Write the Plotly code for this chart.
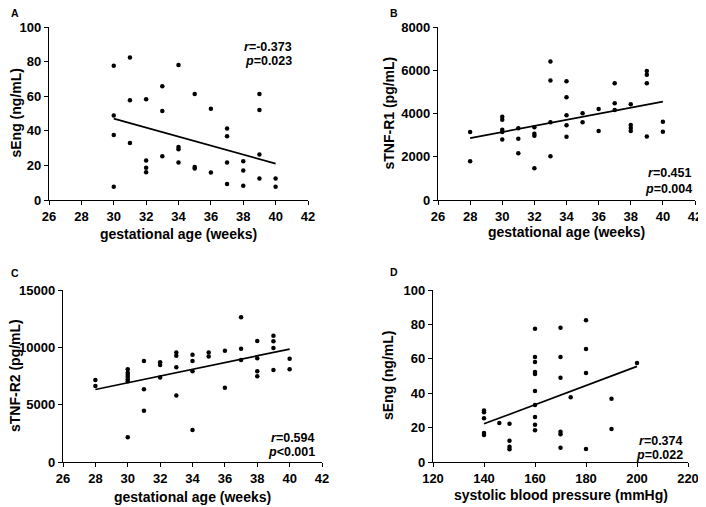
import plotly.graph_objects as go

# panel A: gestational age vs sEng
ga_a = [30, 30, 30, 30, 31, 31, 31, 32, 32, 32, 32, 33, 33, 33,
        34, 34, 34, 34, 35, 35, 35, 36, 36, 37, 37, 37, 37,
        38, 38, 38, 39, 39, 39, 39, 40, 40]
seng_a = [77.6, 48.9, 37.5, 7.7, 82.4, 57.6, 32.9, 58.2, 22.8, 18.6, 16.1, 65.8, 51.5, 25.3,
          78.1, 30.6, 29.4, 21.7, 61.3, 19.1, 18.2, 52.8, 15.9, 41.4, 36.9, 21.7, 9.3,
          22.4, 17.0, 8.3, 61.3, 52.0, 26.3, 12.4, 12.4, 7.7]
fit_a_x = [30, 40]
fit_a_y = [47.0, 21.0]

# panel B: gestational age vs sTNF-R1
ga_b = [28, 28, 30, 30, 30, 30, 30, 31, 31, 31, 32, 32, 32, 32,
        33, 33, 33, 33, 34, 34, 34, 34, 34, 35, 35, 36, 36, 37, 37, 37,
        38, 38, 38, 38, 39, 39, 39, 39, 40, 40]
tnfr1_b = [3142, 1796, 3854, 3715, 3251, 3142, 2802, 3313, 2833, 2167, 3359, 3065, 2972, 1470,
           6409, 5526, 3591, 2028, 5495, 4752, 3916, 3452, 2926, 4009, 3591, 4210, 3189, 5402, 4474, 4164,
           4427, 3467, 3328, 3189, 5960, 5789, 5402, 2941, 3622, 3158]
fit_b_x = [28, 40]
fit_b_y = [2860, 4550]

# panel C: gestational age vs sTNF-R2
ga_c = [28, 28, 30, 30, 30, 30, 30, 30, 30, 31, 31, 31, 32, 32, 32,
        33, 33, 33, 33, 34, 34, 34, 34, 35, 35, 36, 36, 37, 37, 37,
        38, 38, 38, 38, 39, 39, 39, 39, 40, 40]
tnfr2_c = [7150, 6630, 8080, 7790, 7610, 7440, 7210, 7040, 2150, 8810, 6340, 4480, 8690, 8460, 7380,
           9560, 9270, 8260, 5790, 9360, 8810, 7910, 2790, 9560, 9190, 9710, 6480, 12620, 9880, 8900,
           10550, 9040, 7910, 7470, 11020, 10520, 9940, 8020, 9010, 8080]
fit_c_x = [28, 40]
fit_c_y = [6320, 9850]

# panel D: systolic blood pressure vs sEng
sbp_d = [140, 140, 140, 140, 140, 146, 150, 150, 150, 150,
         160, 160, 160, 160, 160, 160, 160, 160, 160, 160,
         170, 170, 170, 170, 170, 170, 174, 180, 180, 180, 180, 190, 190, 200]
seng_d = [30.0, 28.9, 25.4, 16.9, 15.7, 22.7, 22.3, 12.4, 8.9, 7.4,
          77.5, 61.0, 58.1, 52.3, 51.2, 41.3, 33.1, 26.2, 21.7, 18.4,
          78.1, 61.0, 49.0, 17.6, 16.1, 8.3, 37.6, 82.4, 65.7, 51.7, 7.6, 36.8, 19.2, 57.6]
fit_d_x = [140, 200]
fit_d_y = [22.2, 55.6]

panels = [
    dict(x=ga_a, y=seng_a, fx=fit_a_x, fy=fit_a_y, letter="A", xt="gestational age (weeks)",
         yt="sEng (ng/mL)", xr=[26, 42], xd=2, yr=[0, 100], yd=20, r="-0.373", p="=0.023"),
    dict(x=ga_b, y=tnfr1_b, fx=fit_b_x, fy=fit_b_y, letter="B", xt="gestational age (weeks)",
         yt="sTNF-R1 (pg/mL)", xr=[26, 42], xd=2, yr=[0, 8000], yd=2000, r="0.451", p="=0.004"),
    dict(x=ga_c, y=tnfr2_c, fx=fit_c_x, fy=fit_c_y, letter="C", xt="gestational age (weeks)",
         yt="sTNF-R2 (pg/mL)", xr=[26, 42], xd=2, yr=[0, 15000], yd=5000, r="0.594", p="<0.001"),
    dict(x=sbp_d, y=seng_d, fx=fit_d_x, fy=fit_d_y, letter="D", xt="systolic blood pressure (mmHg)",
         yt="sEng (ng/mL)", xr=[120, 220], xd=20, yr=[0, 100], yd=20, r="0.374", p="=0.022"),
]

# layout in page pixels; the page body adds an 8px margin, so the figure is smaller
PAGE_W, PAGE_H, OFF = 706, 507, 8
W, H = PAGE_W - OFF, PAGE_H - OFF
boxes = [(49, 308, 27, 200), (438, 695, 27, 200), (63, 322, 290, 462), (433, 688, 290, 462)]
letter_pos = [(9, 13), (388, 13), (9, 273), (388, 272)]
ytitle_x = [16, 389, 15, 388]
xtitle_y = [234, 232, 497, 495]
# stats text: right edge, r line centre, p line centre
stats_pos = [(294, 47, 61), (694, 173, 189), (317, 438, 452), (685, 441, 455)]

FONT = "Liberation Sans, Arial, sans-serif"
fig = go.Figure()
ann = []


def px(x):
    return (x - OFF) / W


def py(y):
    return 1 - (y - OFF) / H


def txt(text, x, y, size, xanchor="center", angle=0):
    ann.append(dict(text=text, xref="paper", yref="paper", showarrow=False,
                    x=px(x), y=py(y), xanchor=xanchor, yanchor="middle", textangle=angle,
                    font=dict(family=FONT, size=size, color="black", weight="bold")))


for i, (p, box) in enumerate(zip(panels, boxes)):
    n = "" if i == 0 else str(i + 1)
    xa, ya = "x" + n, "y" + n

    fig.add_trace(go.Scatter(x=p["x"], y=p["y"], mode="markers", xaxis=xa, yaxis=ya,
                             marker=dict(color="black", size=4.5), showlegend=False,
                             cliponaxis=False))
    fig.add_trace(go.Scatter(x=p["fx"], y=p["fy"], mode="lines", xaxis=xa, yaxis=ya,
                             line=dict(color="black", width=1.7), showlegend=False))

    l, r, t, b = box
    common = dict(showline=True, linecolor="black", linewidth=1.3, ticks="outside",
                  ticklen=4, tickwidth=1.3, tickcolor="black", showgrid=False, zeroline=False,
                  tickformat="d", automargin=False,
                  tickfont=dict(family=FONT, size=13, color="black", weight="bold"))
    fig.layout["xaxis" + n] = dict(common, domain=[px(l), px(r)], range=p["xr"], dtick=p["xd"],
                                   tick0=p["xr"][0], anchor=ya)
    fig.layout["yaxis" + n] = dict(common, domain=[py(b), py(t)], range=p["yr"],
                                   dtick=p["yd"], anchor=xa)

    txt(p["xt"], (l + r) / 2, xtitle_y[i], 14)
    txt(p["yt"], ytitle_x[i], (t + b) / 2, 14, angle=-90)
    txt(p["letter"], letter_pos[i][0], letter_pos[i][1], 10.5, xanchor="left")

    sx, ry, pyy = stats_pos[i]
    txt("<i>r</i>=" + p["r"], sx, ry, 12.5, xanchor="right")
    txt("<i>p</i>" + p["p"], sx, pyy, 12.5, xanchor="right")

fig.update_layout(width=W, height=H, margin=dict(l=0, r=0, t=0, b=0),
                  plot_bgcolor="white", paper_bgcolor="white", annotations=ann)

fig.write_html("out.html")
